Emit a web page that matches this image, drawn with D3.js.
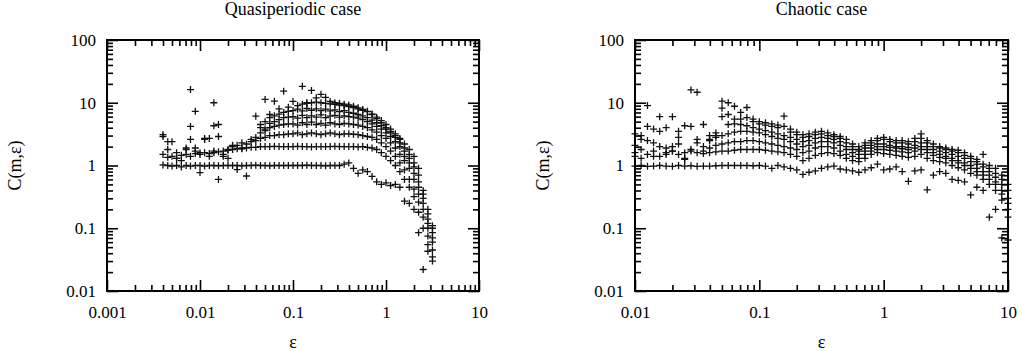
<!DOCTYPE html>
<html>
<head>
<meta charset="utf-8">
<script src="https://cdn.jsdelivr.net/npm/d3@7"></script>
<style>
  body { margin: 0; background: #fff; }
  svg { display: block; }
</style>
</head>
<body>
<svg id="chart" width="1022" height="351"></svg>
<script>
// ---- data ----
const xTickLabelsQuasi = [0.001, 0.01, 0.1, 1, 10];
const xTickLabelsChaos = [0.01, 0.1, 1, 10];
const yTickLabels = [0.01, 0.1, 1, 10, 100];

// quasiperiodic case: one series per embedding dimension
const quasiEps = [0.0040,0.0045,0.0050,0.0056,0.0063,0.0071,0.0079,0.0089,
  0.010,0.0112,0.0126,0.0141,0.0158,0.0178,0.020,0.0224,0.0251,0.0282,0.0316,0.0355,0.0398,0.0447,0.0501,0.0562,0.0631,0.0708,0.0794,0.0891,
  0.10,0.112,0.126,0.141,0.158,0.178,0.20,0.224,0.251,0.282,0.316,0.355,0.398,0.447,0.501,0.562,0.631,0.708,0.794,0.891,
  1.0,1.12,1.26,1.41,1.58,1.78,2.0,2.24,2.51,2.82,3.16];

const quasiM1 = [1.02,1.0,0.98,1.0,0.95,1.0,0.98,1.0,
  1.0,0.98,1.0,1.0,0.99,1.0,1.0,1.0,1.0,0.99,1.0,1.0,1.01,1.0,1.0,0.99,1.0,1.0,1.0,1.0,
  1.0,1.0,1.0,1.01,1.0,1.0,1.0,0.99,1.0,1.0,1.0,1.05,1.1,0.9,0.75,0.85,0.8,0.67,0.55,0.5,
  0.53,0.48,0.5,0.45,0.27,0.25,0.2,0.085,0.022,0.043,0.03];
const quasiM2 = [1.5,1.35,1.4,1.3,1.45,1.5,1.4,1.55,
  1.5,1.6,1.55,1.6,1.65,1.7,1.75,1.8,1.85,1.85,1.9,1.95,1.95,2.0,2.0,2.0,2.02,2.0,2.0,2.0,
  2.0,2.02,2.0,2.0,1.98,2.0,2.0,2.0,2.0,2.02,2.0,2.0,2.0,2.0,1.98,2.0,1.95,1.9,1.8,1.6,
  1.4,1.2,1.0,0.8,0.6,0.45,0.32,0.18,0.1,0.055,0.035];
const quasiM3 = [2.9,1.8,2.4,1.6,1.2,1.8,2.6,1.7,
  1.6,2.7,1.4,1.7,2.9,1.5,1.8,2.0,2.1,1.9,2.2,2.4,2.5,2.7,2.8,3.0,3.0,3.1,3.1,3.2,
  3.2,3.3,3.1,3.2,3.3,3.2,3.1,3.2,3.3,3.2,3.1,3.2,3.2,3.15,3.1,3.0,2.9,2.8,2.6,2.3,
  2.0,1.7,1.4,1.1,0.85,0.6,0.42,0.26,0.15,0.075,0.045];
const quasiM4 = [3.1,2.4,null,1.3,null,1.9,4.2,1.9,
  0.77,2.6,2.7,4.3,0.6,1.4,1.3,2.1,0.86,2.3,0.68,2.6,2.8,3.3,3.6,4.0,4.2,4.4,4.5,4.6,
  4.6,4.4,4.8,4.5,4.9,4.5,4.7,4.4,4.8,4.6,4.5,4.7,4.6,4.5,4.4,4.2,4.0,3.7,3.4,3.0,
  2.7,2.3,1.9,1.5,1.2,0.9,0.6,0.35,0.2,0.1,0.06];
const quasiM5 = [null,null,null,null,null,null,16.2,7.3,
  null,null,null,10,4.5,null,null,null,null,null,null,null,6.1,4.0,3.8,4.7,5.0,5.4,5.8,5.9,
  6.0,5.7,6.3,5.8,6.2,5.9,6.4,5.8,6.1,6.3,5.9,6.2,6.0,5.9,5.7,5.4,5.0,4.6,4.2,3.8,
  3.3,2.9,2.4,2.0,1.4,1.1,0.75,0.45,0.25,0.12,0.07];
const quasiM6 = [null,null,null,null,null,null,null,null,
  null,null,null,null,null,null,null,null,null,null,null,null,null,4.5,5.0,5.8,6.2,6.6,7.0,7.3,
  7.5,7.9,7.4,8.1,7.6,8.0,7.5,7.9,7.4,7.7,7.2,7.5,7.0,6.8,6.5,6.2,5.8,5.3,4.8,4.3,
  3.8,3.3,2.8,2.3,1.7,1.3,0.95,0.55,0.3,0.14,0.085];
const quasiM7 = [null,null,null,null,null,null,null,null,
  null,null,null,null,null,null,null,null,null,null,null,null,null,null,11.3,6.5,10.6,8.0,15.3,8.5,
  10.5,9.0,9.5,9.8,10.0,10.2,10.0,9.8,9.6,9.4,9.2,9.0,8.7,8.4,8.0,7.6,7.2,6.6,5.9,5.2,
  4.5,3.8,3.2,2.6,1.9,1.5,1.1,0.7,0.35,0.17,0.1];
const quasiM8 = [null,null,null,null,null,null,null,null,
  null,null,null,null,null,null,null,null,null,null,null,null,null,null,null,null,null,null,null,null,
  null,null,18.3,10.0,15.7,12.0,13.6,12.2,10.5,10.0,9.8,9.5,9.2,8.8,8.3,7.8,7.3,6.5,5.6,4.8,
  4.0,3.5,3.0,2.7,2.2,1.8,1.4,0.9,0.4,0.2,0.11];

// chaotic case
const chaosEps = [0.010,0.0112,0.0126,0.0141,0.0158,0.0178,0.020,0.0224,0.0251,0.0282,
  0.0316,0.0355,0.0398,0.0447,0.0501,0.0562,0.0631,0.0708,0.0794,0.0891,
  0.10,0.112,0.126,0.141,0.158,0.178,0.20,0.224,0.251,0.282,
  0.316,0.355,0.398,0.447,0.501,0.562,0.631,0.708,0.794,0.891,
  1.0,1.12,1.26,1.41,1.58,1.78,2.0,2.24,2.51,2.82,
  3.16,3.55,3.98,4.47,5.01,5.62,6.31,7.08,7.94,8.91,10.0];

const chaosM1 = [0.98,1.0,0.97,0.98,1.0,0.98,0.97,1.0,0.98,0.99,
  0.97,0.98,0.98,0.99,1.0,1.0,1.0,1.0,1.0,0.99,
  1.0,0.98,0.9,1.0,0.95,0.9,0.85,0.72,0.78,0.82,
  0.9,0.95,0.98,0.88,0.85,0.82,0.78,0.85,0.92,1.05,
  0.85,0.88,0.95,0.8,0.56,0.82,0.85,0.41,0.7,0.8,
  0.75,0.6,0.58,0.55,0.34,0.45,0.4,0.15,0.2,0.07,0.065];
const chaosM2 = [1.6,1.3,1.5,1.7,1.4,1.6,1.7,1.5,1.25,1.7,
  1.6,1.55,1.6,1.65,1.7,1.7,1.75,1.8,1.8,1.8,
  1.8,1.75,1.7,1.65,1.6,1.5,1.4,1.2,1.3,1.45,
  1.55,1.6,1.55,1.45,1.3,1.2,1.15,1.3,1.5,1.6,
  1.55,1.5,1.45,1.4,1.35,1.4,1.5,1.3,1.2,1.15,
  1.1,1.0,0.92,0.85,0.75,0.7,0.6,0.5,0.4,0.28,0.15];
const chaosM3 = [2.1,1.8,2.5,1.4,2.0,1.5,1.7,2.2,1.6,1.8,
  2.3,1.7,1.9,2.1,2.2,2.3,2.4,2.4,2.5,2.5,
  2.4,2.3,2.2,2.1,2.0,1.9,1.8,1.6,1.7,1.9,
  2.0,2.0,1.9,1.7,1.5,1.4,1.3,1.5,1.7,1.8,
  1.8,1.75,1.7,1.65,1.6,1.7,1.8,1.6,1.45,1.35,
  1.3,1.2,1.1,1.0,0.9,0.8,0.7,0.6,0.5,0.35,0.2];
const chaosM4 = [3.2,2.6,4.2,2.3,3.5,1.9,2.0,3.5,1.3,4.2,
  2.6,2.0,2.6,2.8,3.0,3.2,3.4,3.5,3.5,3.4,
  3.3,3.1,2.9,2.7,2.6,2.4,2.2,2.0,2.1,2.3,
  2.4,2.4,2.3,2.1,1.8,1.6,1.5,1.7,1.9,2.0,
  2.0,1.95,1.9,1.85,1.8,1.9,2.0,1.8,1.6,1.5,
  1.4,1.3,1.2,1.1,1.0,0.9,0.8,0.7,0.55,0.4,0.25];
const chaosM5 = [1.4,3.0,9.0,3.8,6.0,4.0,6.0,2.8,4.3,16.0,
  14.7,4.5,3.0,3.3,8.2,4.5,4.6,4.5,4.3,4.0,
  3.8,3.6,3.4,3.2,3.0,2.8,2.6,2.4,2.5,2.7,
  2.8,2.7,2.6,2.4,2.0,1.8,1.7,1.9,2.1,2.2,
  2.2,2.1,2.0,2.0,1.95,2.1,2.3,2.0,1.8,1.7,
  1.6,1.5,1.4,1.3,1.15,1.05,0.95,0.8,0.65,0.5,0.3];
const chaosM6 = [null,null,null,null,null,null,null,null,null,null,
  null,null,2.5,3.0,10.6,6.5,8.8,5.5,8.4,5.0,
  4.6,4.4,4.2,4.0,6.1,3.4,3.1,2.8,2.9,3.1,
  3.2,3.0,2.9,2.7,2.3,2.0,1.8,2.1,2.3,2.5,
  2.6,2.4,2.3,2.3,2.2,2.4,2.7,2.3,2.0,1.9,
  1.8,1.7,1.6,1.45,1.3,1.15,1.05,0.9,0.75,0.6,0.4];
const chaosM7 = [null,null,null,null,null,null,null,null,null,null,
  null,null,null,null,6.0,10.0,5.5,7.0,5.8,5.5,
  5.0,4.8,4.6,4.4,4.2,3.8,3.4,3.1,3.2,3.4,
  3.5,3.3,3.1,2.9,2.6,2.2,2.0,2.3,2.5,2.7,
  2.8,2.6,2.5,2.5,2.4,2.7,3.2,2.5,2.2,2.0,
  1.9,1.8,1.75,1.6,1.4,1.25,1.5,1.0,0.9,0.7,0.5];

// ---- drawing ----
const svg = d3.select("#chart");
const serif = "'Liberation Serif', 'Times New Roman', serif";

const panels = [
  { title: "Quasiperiodic case", left: 107, right: 479, xDomain: [0.001, 10],
    xLabels: xTickLabelsQuasi, eps: quasiEps,
    series: [quasiM1, quasiM2, quasiM3, quasiM4, quasiM5, quasiM6, quasiM7, quasiM8] },
  { title: "Chaotic case", left: 635, right: 1008, xDomain: [0.01, 10],
    xLabels: xTickLabelsChaos, eps: chaosEps,
    series: [chaosM1, chaosM2, chaosM3, chaosM4, chaosM5, chaosM6, chaosM7] }
];
const plotTop = 40, plotBottom = 291;

function isDecade(v) {
  return Math.abs(Math.log10(v) - Math.round(Math.log10(v))) < 1e-6;
}

panels.forEach(p => {
  const x = d3.scaleLog().domain(p.xDomain).range([p.left, p.right]);
  const y = d3.scaleLog().domain([0.01, 100]).range([plotBottom, plotTop]);

  const xAll = x.ticks(), yAll = y.ticks();
  const xMinor = xAll.filter(v => !isDecade(v)), xMajor = xAll.filter(isDecade);
  const yMinor = yAll.filter(v => !isDecade(v)), yMajor = yAll.filter(isDecade);

  const g = svg.append("g");

  // points
  const pts = [];
  p.series.forEach(s => s.forEach((c, i) => {
    if (c != null) pts.push({ e: p.eps[i], c: c });
  }));
  g.append("g")
    .selectAll("path")
    .data(pts)
    .enter()
    .append("path")
    .attr("transform", d => "translate(" + x(d.e) + "," + y(d.c) + ")")
    .attr("d", "M-3.5,0H3.5M0,-3.5V3.5")
    .attr("stroke", "#111")
    .attr("stroke-width", 1.3)
    .attr("fill", "none");

  // inward ticks on all four sides
  function ticks(axis, tx, ty, values, size) {
    const a = g.append("g")
      .attr("transform", "translate(" + tx + "," + ty + ")")
      .call(axis.tickValues(values).tickSize(size).tickFormat(""));
    a.select(".domain").remove();
    a.selectAll("line").attr("stroke", "#000").attr("stroke-width", 1.6);
  }
  ticks(d3.axisTop(x), 0, plotBottom, xMinor, 6);
  ticks(d3.axisTop(x), 0, plotBottom, xMajor, 11);
  ticks(d3.axisBottom(x), 0, plotTop, xMinor, 6);
  ticks(d3.axisBottom(x), 0, plotTop, xMajor, 11);
  ticks(d3.axisRight(y), p.left, 0, yMinor, 6);
  ticks(d3.axisRight(y), p.left, 0, yMajor, 11);
  ticks(d3.axisLeft(y), p.right, 0, yMinor, 6);
  ticks(d3.axisLeft(y), p.right, 0, yMajor, 11);

  // frame
  g.append("rect")
    .attr("x", p.left).attr("y", plotTop)
    .attr("width", p.right - p.left).attr("height", plotBottom - plotTop)
    .attr("fill", "none").attr("stroke", "#000").attr("stroke-width", 2);

  // tick labels
  const xl = g.append("g")
    .attr("transform", "translate(0," + plotBottom + ")")
    .call(d3.axisBottom(x).tickValues(p.xLabels).tickSize(0).tickFormat(d => String(d)));
  xl.select(".domain").remove();
  xl.selectAll("text").attr("y", 27).attr("dy", null)
    .attr("font-family", serif).attr("font-size", 17).attr("fill", "#000");

  const yl = g.append("g")
    .attr("transform", "translate(" + p.left + ",0)")
    .call(d3.axisLeft(y).tickValues(yTickLabels).tickSize(0).tickPadding(11).tickFormat(d => String(d)));
  yl.select(".domain").remove();
  yl.selectAll("text")
    .attr("font-family", serif).attr("font-size", 17).attr("fill", "#000");

  // titles
  const cx = (p.left + p.right) / 2;
  g.append("text")
    .attr("x", cx).attr("y", 15)
    .attr("text-anchor", "middle")
    .attr("font-family", serif).attr("font-size", 18)
    .text(p.title);

  g.append("text")
    .attr("x", cx).attr("y", 348)
    .attr("text-anchor", "middle")
    .attr("font-family", serif).attr("font-size", 18)
    .text("ε");

  g.append("text")
    .attr("transform", "translate(" + (p.left - 86) + "," + ((plotTop + plotBottom) / 2) + ") rotate(-90)")
    .attr("text-anchor", "middle")
    .attr("font-family", serif).attr("font-size", 18)
    .text("C(m,ε)");
});
</script>
</body>
</html>
